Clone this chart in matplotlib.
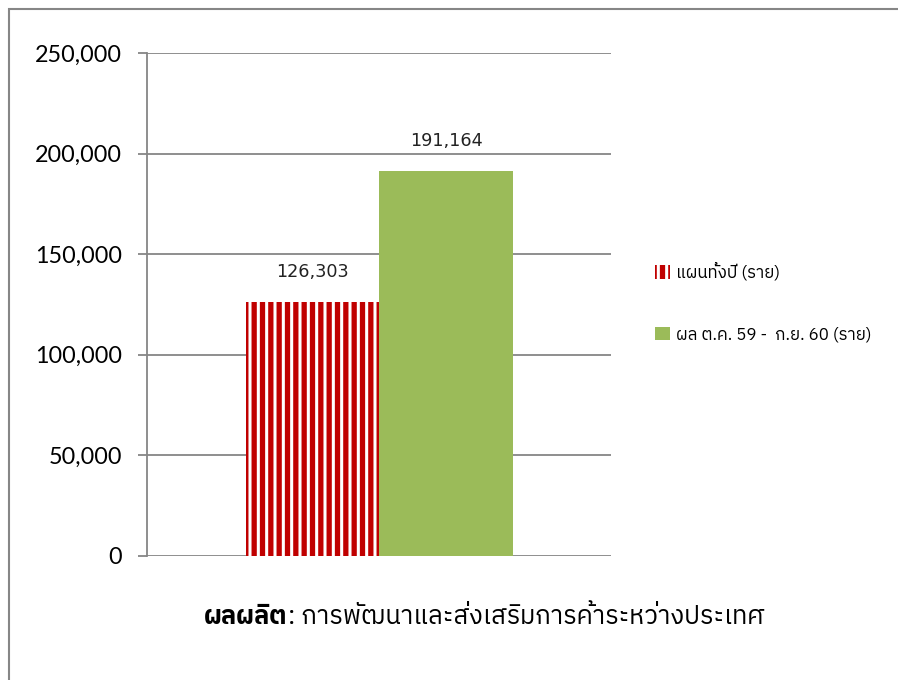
import matplotlib
matplotlib.use("Agg")
import matplotlib.pyplot as plt
from matplotlib.patches import Rectangle
from matplotlib.ticker import FuncFormatter

# data
series = ['แผนทั้งปี (ราย)', 'ผล ต.ค. 59 -  ก.ย. 60 (ราย)']
values = [126303, 191164]
yticks = [0, 50000, 100000, 150000, 200000, 250000]
title_bold = 'ผลผลิต'
title_rest = ': การพัฒนาและส่งเสริมการค้าระหว่างประเทศ'

thai = ['IBM Plex Sans Thai', 'DejaVu Sans']
plt.rcParams['hatch.linewidth'] = 3.8
plt.rcParams['hatch.color'] = '#c00000'

fig = plt.figure(figsize=(8.98, 6.8), dpi=100)
W, H = 898, 680
ax = fig.add_axes([147 / W, 1 - 556 / H, (611 - 147) / W, (556 - 53) / H])

grey = '#868686'
offsets = [-0.1425, 0.1445]
width = 0.287
red = ax.bar(offsets[0], values[0], width, color='white', edgecolor='#c00000',
             hatch='||', linewidth=0, label=series[0], zorder=3)
green = ax.bar(offsets[1], values[1], width, color='#9bbb59', linewidth=0,
               label=series[1], zorder=3)

for off, v in zip(offsets, values):
    ax.text(off, v + 15000, f'{v:,}', ha='center', va='center', fontsize=12.7,
            family='DejaVu Sans', color='#222222')

ax.set_xlim(-0.5, 0.5)
ax.set_ylim(0, 250000)
ax.set_yticks(yticks)
ax.yaxis.set_major_formatter(FuncFormatter(lambda v, p: f'{int(v):,}'))
ax.set_xticks([])
ax.grid(axis='y', color=grey, linewidth=1.3, zorder=0)
for s in ['top', 'right', 'bottom']:
    ax.spines[s].set_visible(False)
ax.spines['left'].set_color(grey)
ax.spines['left'].set_linewidth(1.3)
ax.tick_params(axis='y', direction='out', length=6.5, width=1.3, color=grey,
               labelsize=16.8, pad=11.5, labelcolor='black')
for lab in ax.get_yticklabels():
    lab.set_family('Lato')

leg = fig.legend(handles=[red, green], labels=series, loc='upper left',
                 bbox_to_anchor=(640 / W, 1 - 247 / H), frameon=False,
                 prop={'family': thai, 'size': 12.2}, handlelength=0.85,
                 handleheight=0.85, handletextpad=0.4, labelspacing=2.7)

# outer frame
fig.patches.append(Rectangle((9 / W, -0.1), 1.2, 1 - 9 / H + 0.1,
                             transform=fig.transFigure, fill=False,
                             edgecolor=grey, linewidth=1.5))

# title with bold prefix
r = fig.canvas.get_renderer()
tb = fig.text(0, 0, title_bold, fontsize=18.4, fontweight='bold', family=thai)
tr = fig.text(0, 0, title_rest, fontsize=18.4, family=thai)
wb = tb.get_window_extent(r).width
wr = tr.get_window_extent(r).width
x0 = 484 - (wb + wr) / 2
yb = 1 - 624 / H
tb.set_position((x0 / W, yb))
tr.set_position(((x0 + wb) / W, yb))

fig.savefig('out.png', dpi=100)
